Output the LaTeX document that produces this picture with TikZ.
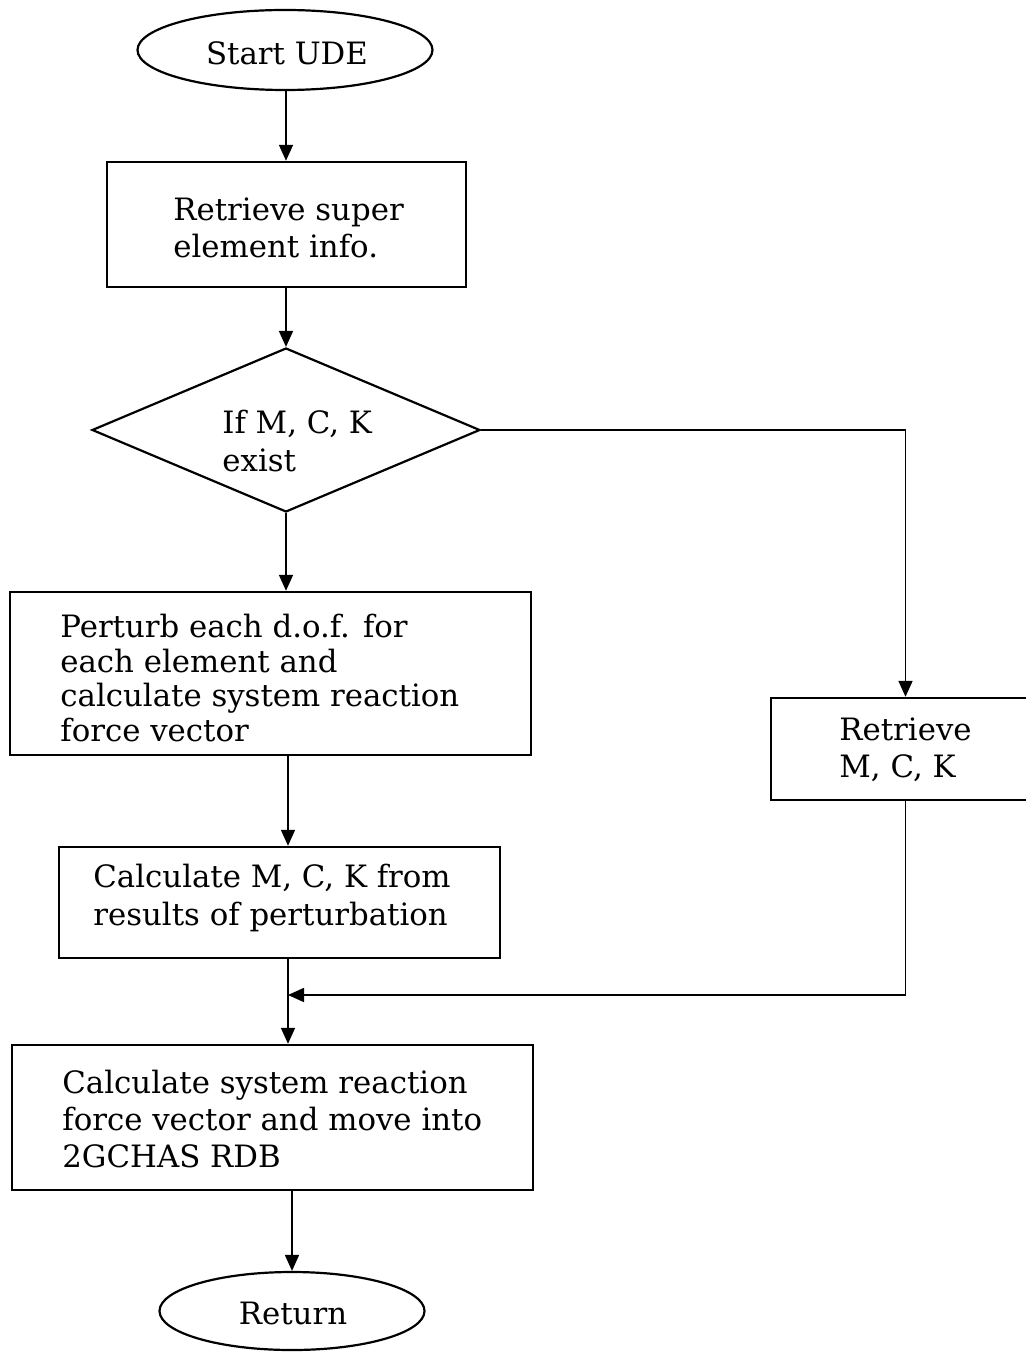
\documentclass[tikz,border=0pt]{standalone}
\usepackage{fontspec}
\setmainfont{DejaVu Serif}
\usetikzlibrary{shapes.geometric,arrows.meta,fit}
\begin{document}
\begin{tikzpicture}[x=0.5pt,y=-0.5pt,
  box/.style={draw, line width=1.2pt, inner sep=0pt},
  term/.style={draw, ellipse, line width=1.1pt, inner sep=0pt},
  txt/.style={font=\fontsize{15.4}{18.7}\selectfont, align=left, inner sep=0pt},
  arr/.style={line width=0.85pt, -{Triangle[length=8pt,width=7pt]}}]
\clip (0,0) rectangle (1026,1353);
\fill[white] (0,0) rectangle (1026,1353);

% shapes
\node[term, minimum width=147.5pt, minimum height=40pt] (start) at (285,50) {};
\node[box, fit={(107,162)(466,287)}] (b1) {};
\node[draw, diamond, line width=1.1pt, inner sep=0pt, minimum width=194pt, minimum height=82pt] (dia) at (286,430) {};
\node[box, fit={(10,592)(531,755)}] (b2) {};
\node[box, fit={(771,698)(1040,800)}] (ret) {};
\node[box, fit={(59,847)(500,958)}] (b3) {};
\node[box, fit={(12,1045)(533,1190)}] (b4) {};
\node[term, minimum width=132.5pt, minimum height=39pt] (fin) at (292,1311) {};
\coordinate (join) at (288,995);

% texts
\node[txt] (tstart) at (287,53) {Start UDE};
\node[txt, anchor=west] (t1) at (173,228) {Retrieve super\\element info.};
\node[txt, anchor=west] (tdia) at (222,441) {If M, C, K\\exist};
\node[txt, anchor=west, font=\fontsize{15.4}{17.2}\selectfont] (t2) at (60,678) {Perturb each d.o.f. for\\each element and\\calculate system reaction\\force vector};
\node[txt, anchor=west] (tret) at (839,750) {Retrieve\\M, C, K};
\node[txt, anchor=west] (t3) at (93,898) {Calculate M, C, K from\\results of perturbation};
\node[txt, anchor=west] (t4) at (62,1119) {Calculate system reaction\\force vector and move into\\2GCHAS RDB};
\node[txt] (tfin) at (293,1313) {Return};

% connectors
\draw[arr] (start.south -| dia.north) -- (b1.north -| dia.north);
\draw[arr] (b1.south -| dia.north) -- (dia.north);
\draw[arr] (dia.south) -- (b2.north -| dia.south);
\draw[arr] (dia.east) -| (ret.north);
\draw[arr] (b2.south -| join) -- (b3.north -| join);
\draw[line width=0.85pt] (b3.south -| join) -- (join);
\draw[arr] (join) -- (b4.north -| join);
\draw[arr] (ret.south) |- (join);
\draw[arr] (b4.south -| fin.north) -- (fin.north);
\end{tikzpicture}
\end{document}
